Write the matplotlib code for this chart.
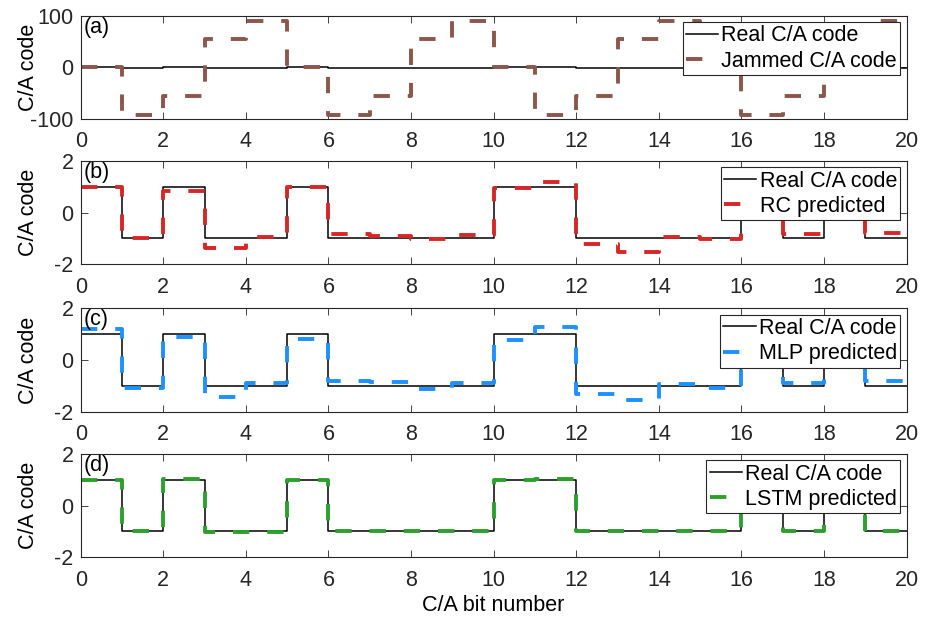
import numpy as np
import matplotlib
matplotlib.use('Agg')
import matplotlib.pyplot as plt

plt.rcParams['font.family'] = ['Liberation Sans', 'DejaVu Sans']
plt.rcParams['font.size'] = 15.5
plt.rcParams['axes.unicode_minus'] = False

bits = np.arange(21)

# real C/A chips, one value per bit
real_code = [1, -1, 1, -1, -1, 1, -1, -1, -1, -1, 1, 1, -1, -1, -1, -1, 1, -1, 1, -1]
jammed_code = [0, -92, -56, 55, 90, 0, -92, -56, 55, 90,
               0, -92, -56, 55, 90, 0, -92, -56, 55, 90]
rc_pred = [1.0, -1.0, 0.82, -1.38, -0.93, 1.0, -0.82, -0.9, -1.02, -0.88,
           0.97, 1.18, -1.22, -1.51, -0.93, -1.03, 0.95, -0.84, 0.95, -0.78]
mlp_pred = [1.19, -1.07, 0.9, -1.42, -0.9, 0.83, -0.81, -0.87, -1.11, -0.9,
            0.77, 1.29, -1.31, -1.55, -0.94, -1.09, 1.0, -0.9, 1.0, -0.8]
lstm_pred = [1.0, -1.0, 1.03, -1.01, -1.02, 1.0, -0.99, -1.0, -1.0, -1.0,
             1.0, 1.02, -1.0, -1.0, -1.0, -0.99, 1.0, -1.0, 1.0, -1.0]

panels = [
    ('(a)', jammed_code, 'Jammed C/A code', '#8c564b', (-100, 100), [-100, 0, 100]),
    ('(b)', rc_pred, 'RC predicted', '#d62728', (-2, 2), [-2, 0, 2]),
    ('(c)', mlp_pred, 'MLP predicted', '#1e90ff', (-2, 2), [-2, 0, 2]),
    ('(d)', lstm_pred, 'LSTM predicted', '#2ca02c', (-2, 2), [-2, 0, 2]),
]
bottoms = [0.8078, 0.573, 0.3349, 0.0997]


def steps(vals):
    return np.append(vals, vals[-1])


fig = plt.figure(figsize=(9.35, 6.19), dpi=100)

for (tag, pred, name, color, ylim, yt), b in zip(panels, bottoms):
    ax = fig.add_axes([0.0863, b, 0.8834, 0.167])
    ax.plot(bits, steps(real_code), drawstyle='steps-post', color='k',
            lw=1.1, label='Real C/A code')
    ax.plot(bits, steps(pred), drawstyle='steps-post', color=color, lw=2.8,
            dashes=(4.2, 4.6), dash_capstyle='butt', label=name)
    ax.set_xlim(0, 20)
    ax.set_ylim(*ylim)
    ax.set_xticks(np.arange(0, 21, 2))
    ax.set_yticks(yt)
    ax.tick_params(direction='in', top=True, right=True, length=5,
                   width=0.6, colors='#262626', labelcolor='#262626',
                   labelsize=15.5)
    ax.tick_params(axis='x', pad=9)
    ax.tick_params(axis='y', pad=5)
    for sp in ax.spines.values():
        sp.set_color('#262626')
        sp.set_linewidth(0.8)
    ax.set_ylabel('C/A code', fontsize=15.5)
    ax.yaxis.set_label_coords(-0.05, 0.5)
    ax.text(0.004, 0.99, tag, transform=ax.transAxes, va='top', ha='left',
            fontsize=15.5)
    leg = ax.legend(loc='upper right', fontsize=15.5, frameon=True,
                    fancybox=False, framealpha=1, edgecolor='#262626',
                    handlelength=1.5, handletextpad=0.15, labelspacing=0.2,
                    borderpad=0.15, borderaxespad=0.3)
    leg.get_frame().set_linewidth(0.8)

ax.set_xlabel('C/A bit number', fontsize=15.5, labelpad=3)

fig.savefig('out.png', dpi=100)
